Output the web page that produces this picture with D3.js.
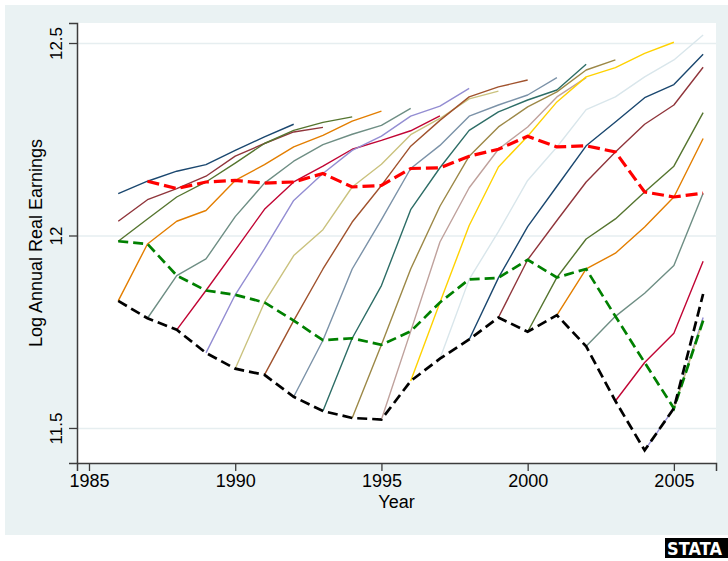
<!DOCTYPE html>
<html>
<head>
<meta charset="utf-8">
<script src="https://cdn.jsdelivr.net/npm/d3@7"></script>
<style>
body { margin: 0; background: #fff; }
svg { display: block; font-family: "Liberation Sans", Arial, sans-serif; }
</style>
</head>
<body>
<svg id="chart" width="728" height="561"></svg>
<script>
// log real earnings by entry cohort, one array per cohort (first value = first year seen)
const c1983 = [12.109, 12.141, 12.167, 12.184, 12.221, 12.256, 12.289];
const c1984 = [12.037, 12.093, 12.122, 12.154, 12.206, 12.239, 12.269, 12.281];
const c1985 = [11.985, 12.043, 12.100, 12.139, 12.188, 12.239, 12.273, 12.294, 12.308];
const c1986 = [11.830, 11.978, 12.037, 12.065, 12.143, 12.184, 12.230, 12.260, 12.297, 12.323];
const c1987 = [11.785, 11.896, 11.939, 12.049, 12.136, 12.193, 12.236, 12.263, 12.286, 12.330];
const c1988 = [11.755, 11.857, 11.962, 12.068, 12.139, 12.180, 12.224, 12.247, 12.272, 12.311];
const c1989 = [11.695, 11.846, 11.965, 12.091, 12.161, 12.221, 12.258, 12.310, 12.336, 12.382];
const c1990 = [11.654, 11.826, 11.948, 12.015, 12.126, 12.185, 12.262, 12.304, 12.355, 12.375];
const c1991 = [11.638, 11.779, 11.913, 12.035, 12.130, 12.232, 12.299, 12.360, 12.386, 12.404];
const c1992 = [11.581, 11.728, 11.913, 12.041, 12.174, 12.234, 12.310, 12.339, 12.365, 12.410];
const c1993 = [11.544, 11.733, 11.870, 12.067, 12.176, 12.273, 12.321, 12.352, 12.378, 12.445];
const c1994 = [11.526, 11.716, 11.913, 12.076, 12.206, 12.282, 12.334, 12.373, 12.430, 12.456];
const c1995 = [11.522, 11.751, 11.983, 12.124, 12.224, 12.282, 12.360, 12.410];
const c1996 = [11.622, 11.826, 12.026, 12.178, 12.258, 12.347, 12.412, 12.436, 12.473, 12.502];
const c1997 = [11.680, 11.886, 12.010, 12.143, 12.230, 12.327, 12.360, 12.412, 12.456, 12.521];
const c1998 = [11.730, 11.890, 12.023, 12.128, 12.233, 12.295, 12.358, 12.392, 12.471];
const c1999 = [11.787, 11.937, 12.039, 12.139, 12.217, 12.289, 12.339, 12.437];
const c2000 = [11.750, 11.891, 11.991, 12.043, 12.113, 12.180, 12.319];
const c2001 = [11.793, 11.913, 11.954, 12.022, 12.100, 12.252];
const c2002 = [11.712, 11.790, 11.850, 11.922, 12.110];
const c2003 = [11.570, 11.670, 11.746, 11.933];
const c2004 = [11.442, 11.551, 11.787];
const c2005 = [11.551, 11.779];
const c2006 = [11.848];

const cohorts = [c1983, c1984, c1985, c1986, c1987, c1988, c1989, c1990, c1991, c1992, c1993, c1994,
                 c1995, c1996, c1997, c1998, c1999, c2000, c2001, c2002, c2003, c2004, c2005, c2006];
const firstYears = [1986, 1986, 1986, 1986, 1987, 1988, 1989, 1990, 1991, 1992, 1993, 1994,
                    1995, 1996, 1997, 1998, 1999, 2000, 2001, 2002, 2003, 2004, 2005, 2006];

// summary lines: entry year, second year and fifth year in the job
const years = [1986, 1987, 1988, 1989, 1990, 1991, 1992, 1993, 1994, 1995, 1996,
               1997, 1998, 1999, 2000, 2001, 2002, 2003, 2004, 2005, 2006];
const entryEarn = [11.830, 11.785, 11.755, 11.695, 11.654, 11.638, 11.581, 11.544, 11.526, 11.522, 11.622,
                   11.680, 11.730, 11.787, 11.750, 11.793, 11.712, 11.570, 11.442, 11.551, 11.848];
const secondEarn = [11.985, 11.978, 11.896, 11.857, 11.846, 11.826, 11.779, 11.728, 11.733, 11.716, 11.751,
                    11.826, 11.886, 11.890, 11.937, 11.891, 11.913, 11.790, 11.670, 11.551, 11.779];
const fifthEarn = [null, 12.141, 12.122, 12.139, 12.143, 12.136, 12.139, 12.161, 12.126, 12.130, 12.174,
                   12.176, 12.206, 12.224, 12.258, 12.230, 12.233, 12.217, 12.113, 12.100, 12.110];

const xTicks = [1985, 1990, 1995, 2000, 2005];
const yTicks = [11.5, 12, 12.5];

// stata s2color palette
const palette = ["#1a476f", "#90353b", "#55752f", "#e37e00", "#6e8e84", "#c10534", "#938dd2", "#cac27e",
                 "#a0522d", "#7b92a8", "#2d6d66", "#9c8847", "#bfa19c", "#ffd200", "#d9e6eb"];

let svg = d3.select("#chart");

// graph region
svg.append("rect")
    .attr("x", 5).attr("y", 5)
    .attr("width", 723).attr("height", 530)
    .attr("fill", "#eaf2f3");

let margin = {top: 23, right: 12, bottom: 98, left: 77};
let width = +svg.attr("width") - margin.left - margin.right;
let height = +svg.attr("height") - margin.top - margin.bottom;
let g = svg.append("g").attr("transform", `translate(${margin.left},${margin.top})`);

g.append("rect").attr("width", width).attr("height", height).attr("fill", "#fff");

let x = d3.scaleLinear().domain([1984.59, 2006.44]).range([0, width]);
let y = d3.scaleLinear().domain([11.409, 12.552]).range([height, 0]);

// horizontal gridlines
g.append("g")
    .call(d3.axisLeft(y).tickValues(yTicks).tickSize(-width).tickFormat(""))
    .call(a => a.select(".domain").remove())
    .selectAll("line")
    .attr("stroke", "#e6eef0")
    .attr("stroke-width", 1.5);

let line = d3.line()
    .defined(d => d[1] != null)
    .x(d => x(d[0]))
    .y(d => y(d[1]));

cohorts.forEach((vals, i) => {
    let pts = vals.map((v, k) => [firstYears[i] + k, v]);
    g.append("path")
        .datum(pts)
        .attr("fill", "none")
        .attr("stroke", palette[i % palette.length])
        .attr("stroke-width", 1.4)
        .attr("stroke-linejoin", "round")
        .attr("d", line);
});

function dashed(vals, color, w, dash) {
    g.append("path")
        .datum(years.map((yr, k) => [yr, vals[k]]))
        .attr("fill", "none")
        .attr("stroke", color)
        .attr("stroke-width", w)
        .attr("stroke-dasharray", dash)
        .attr("d", line);
}
dashed(fifthEarn, "#ff0000", 3.2, "12,5");
dashed(secondEarn, "#008000", 2.7, "10,5");
dashed(entryEarn, "#000000", 2.7, "10,5");

// axes
let yAxis = g.append("g")
    .call(d3.axisLeft(y).tickValues(yTicks).tickSize(8).tickFormat(d3.format("")));
let xAxis = g.append("g")
    .attr("transform", `translate(0,${height})`)
    .call(d3.axisBottom(x).tickValues(xTicks).tickSize(8).tickPadding(3).tickFormat(d3.format("d")));

[xAxis, yAxis].forEach(a => {
    a.select(".domain").attr("stroke", "#3c3c3c").attr("stroke-width", 1.5);
    a.selectAll(".tick line").attr("stroke", "#3c3c3c").attr("stroke-width", 1.3);
    a.selectAll("text").attr("fill", "#000").style("font-size", "18px")
        .style("font-family", "'Liberation Sans', Arial, sans-serif");
});

yAxis.selectAll("text")
    .attr("transform", "rotate(-90)")
    .attr("x", 0)
    .attr("y", -15)
    .attr("dy", 0)
    .attr("text-anchor", "middle")
    .style("font-size", "17px");

svg.append("text")
    .attr("x", margin.left + width / 2)
    .attr("y", 507.5)
    .attr("text-anchor", "middle")
    .style("font-size", "18px")
    .text("Year");

svg.append("text")
    .attr("transform", `translate(41.5,${margin.top + height / 2}) rotate(-90)`)
    .attr("text-anchor", "middle")
    .style("font-size", "18px")
    .text("Log Annual Real Earnings");

// stata badge
svg.append("rect")
    .attr("x", 665).attr("y", 538)
    .attr("width", 63).attr("height", 20)
    .attr("fill", "#000");
svg.append("text")
    .attr("x", 667).attr("y", 554.5)
    .attr("fill", "#fff")
    .attr("textLength", 55)
    .attr("lengthAdjust", "spacingAndGlyphs")
    .style("font-family", "'DejaVu Sans', sans-serif")
    .style("font-weight", "bold")
    .style("font-size", "18px")
    .text("STATA");
</script>
</body>
</html>
